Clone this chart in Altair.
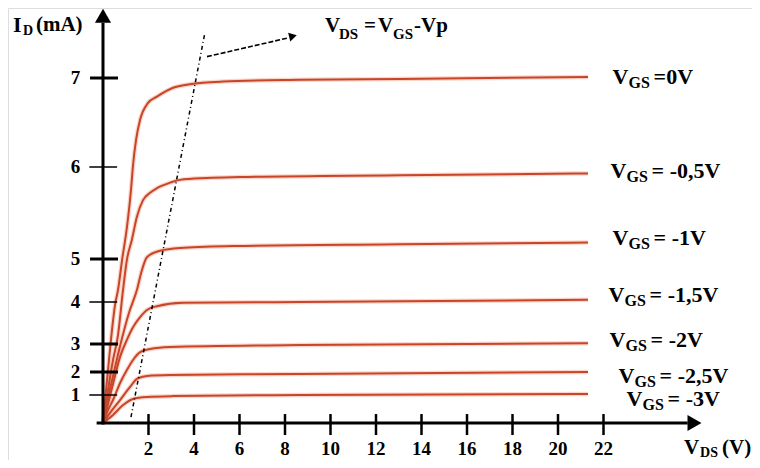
import altair as alt
import pandas as pd

# ---------------- data ----------------
vgs_names = ["0V", "-0,5V", "-1V", "-1,5V", "-2V", "-2,5V", "-3V"]
vgs_rest = ["=0V", "= -0,5V", "= -1V", "= -1,5V", "= -2V", "= -2,5V", "= -3V"]

vds_0 = [0, 0.09, 0.22, 0.35, 0.53, 0.66, 0.84, 1.05, 1.23, 1.32, 1.45, 1.63, 1.98, 2.37, 3.08, 3.82, 5.27, 8.66, 13.05, 21.32]
id_0 = [0, 0.82, 2.07, 3.10, 3.93, 4.28, 4.98, 5.34, 5.75, 6.02, 6.30, 6.53, 6.72, 6.79, 6.89, 6.93, 6.96, 6.98, 6.99, 7.01]

vds_05 = [0, 0.22, 0.44, 0.66, 0.88, 1.05, 1.27, 1.49, 1.76, 2.07, 2.37, 2.95, 3.38, 4.57, 6.02, 13.05, 21.32]
id_05 = [0, 1.22, 2.43, 3.21, 4.28, 4.98, 5.21, 5.46, 5.64, 5.72, 5.77, 5.83, 5.86, 5.88, 5.89, 5.91, 5.93]

vds_1 = [0, 0.18, 0.40, 0.75, 1.14, 1.49, 1.71, 1.93, 2.51, 3.38, 5.71, 13.05, 21.32]
id_1 = [0, 0.75, 1.65, 2.93, 3.74, 4.28, 4.74, 5.02, 5.09, 5.12, 5.14, 5.16, 5.18]

vds_15 = [0, 0.22, 0.44, 0.75, 1.05, 1.32, 1.63, 1.93, 2.37, 3.52, 8.66, 21.32]
id_15 = [0, 0.68, 1.48, 2.54, 3.10, 3.40, 3.64, 3.81, 3.90, 3.98, 4.0, 4.05]

vds_2 = [0, 0.22, 0.44, 0.75, 1.05, 1.32, 1.63, 2.07, 2.95, 8.66, 21.32]
id_2 = [0, 0.46, 0.82, 1.52, 2.07, 2.43, 2.71, 2.82, 2.89, 2.96, 3.02]

vds_25 = [0, 0.31, 0.75, 1.19, 1.49, 1.93, 2.95, 8.66, 21.32]
id_25 = [0, 0.36, 0.82, 1.35, 1.70, 1.83, 1.87, 1.91, 2.0]

vds_3 = [0, 0.44, 0.88, 1.32, 1.93, 3.08, 8.66, 21.32]
id_3 = [0, 0.29, 0.64, 0.86, 0.93, 0.96, 1.0, 1.04]

# pinch-off locus (V_DS = V_GS - Vp) and its pointer arrow
pinch_vds = [1.23, 4.48]
pinch_id = [0.21, 7.51]
arrow_vds = [4.57, 8.13]
arrow_id = [7.24, 7.45]

x_tick_values = [2, 4, 6, 8, 10, 12, 14, 16, 18, 20, 22]
y_tick_values = [1, 2, 3, 4, 5, 6, 7]

# ---------------- scales (hand-drawn, uneven y axis) ----------------
FONT = "Liberation Serif"
XS = alt.Scale(domain=[0, 22], range=[95, 595.5], nice=False, zero=False)
YS = alt.Scale(domain=[0] + y_tick_values,
               range=[415, 387, 364, 336, 294, 251, 159, 70],
               nice=False, zero=False)


def X(f):
    return alt.X(f, type="quantitative", scale=XS, axis=None)


def Y(f):
    return alt.Y(f, type="quantitative", scale=YS, axis=None)


curves = [(vds_0, id_0), (vds_05, id_05), (vds_1, id_1), (vds_15, id_15),
          (vds_2, id_2), (vds_25, id_25), (vds_3, id_3)]
rows = []
for name, (xv, yv) in zip(vgs_names, curves):
    for i, (a, b) in enumerate(zip(xv, yv)):
        rows.append({"vgs": name, "i": i, "vds": a, "id": b})
df = pd.DataFrame(rows)

layers = []

# curves: soft halo + main stroke
halo = alt.Chart(df).mark_line(color="#f08a60", strokeWidth=4.5, opacity=0.35,
                               interpolate="monotone").encode(
    x=X("vds"), y=Y("id"), detail="vgs:N", order="i:Q")
main = alt.Chart(df).mark_line(color="#c8442a", strokeWidth=2,
                               interpolate="monotone").encode(
    x=X("vds"), y=Y("id"), detail="vgs:N", order="i:Q")
layers += [halo, main]

# pinch-off dash-dot line
pinch = alt.Chart(pd.DataFrame({"vds": pinch_vds, "id": pinch_id})).mark_line(
    color="black", strokeWidth=1.5, strokeDash=[4, 3, 1, 3]).encode(x=X("vds"), y=Y("id"))
arrow = alt.Chart(pd.DataFrame({"vds": arrow_vds, "id": arrow_id})).mark_line(
    color="black", strokeWidth=1.6, strokeDash=[5, 2]).encode(x=X("vds"), y=Y("id"))
layers += [pinch, arrow]

one = pd.DataFrame({"k": [0]})


def point(xv, yv, shape, size, angle=0):
    return alt.Chart(one).mark_point(shape=shape, filled=True, color="black", size=size,
                                     angle=angle, opacity=1).encode(
        x=alt.XDatum(xv, scale=XS, axis=None), y=alt.YDatum(yv, scale=YS, axis=None))


layers.append(point(8.35, 7.47, "triangle-up", 80, 76))

# axes
layers.append(alt.Chart(one).mark_rule(color="black", strokeWidth=3).encode(
    x=alt.XDatum(0, scale=XS, axis=None),
    y=alt.YDatum(-0.05, scale=YS, axis=None), y2=alt.Y2Datum(7.62)))
layers.append(alt.Chart(one).mark_rule(color="black", strokeWidth=3).encode(
    x=alt.XDatum(-0.28, scale=XS, axis=None), x2=alt.X2Datum(25.7),
    y=alt.YDatum(0, scale=YS, axis=None)))
layers.append(point(0, 7.70, "triangle-up", 260))
layers.append(point(26.0, 0, "triangle-right", 260))

# x ticks + labels
xt = pd.DataFrame({"v": x_tick_values})
layers.append(alt.Chart(xt).mark_rule(color="black", strokeWidth=2.5).transform_calculate(
    a="0.32", b="-0.43").encode(x=X("v"), y=Y("a:Q"), y2="b:Q"))
layers.append(alt.Chart(xt).mark_text(font=FONT, fontWeight="bold", fontSize=19, dy=26,
                                      baseline="middle", align="center", color="black").encode(
    x=X("v"), y=alt.YDatum(0, scale=YS, axis=None), text=alt.Text("v:Q", format="d")))

# y ticks + labels
yt = pd.DataFrame({"v": y_tick_values})
layers.append(alt.Chart(yt).mark_rule(color="black", strokeWidth=3).transform_filter(
    "indexof([2,3,5,7], datum.v) >= 0").transform_calculate(a="-0.57", b="0.66").encode(
    x=X("a:Q"), x2="b:Q", y=Y("v")))
layers.append(alt.Chart(yt).mark_rule(color="black", strokeWidth=1.5).transform_filter(
    "indexof([2,3,5,7], datum.v) < 0").transform_calculate(a="-0.6", b="0.62").encode(
    x=X("a:Q"), x2="b:Q", y=Y("v")))
layers.append(alt.Chart(yt).mark_text(font=FONT, fontWeight="bold", fontSize=19,
                                      baseline="middle", align="right", color="black").encode(
    x=alt.XDatum(-1.0, scale=XS, axis=None), y=Y("v"), text=alt.Text("v:Q", format="d")))


def piece(xv, yv, text, size, dx=0, dy=0):
    return alt.Chart(one).mark_text(text=text, font=FONT, fontWeight="bold", fontSize=size,
                                    align="left", baseline="middle", dx=dx, dy=dy,
                                    color="black").encode(
        x=alt.XDatum(xv, scale=XS, axis=None), y=alt.YDatum(yv, scale=YS, axis=None))


# curve labels  V_GS = ...
label_dx = [0, -2, 0, -4, -3, 6, 14]
label_dy = [0, -2.5, -4, -4.5, -3.5, 3.5, 4.5]
for k, (xv, yv) in enumerate(curves):
    lx, ly = 22.4, yv[-1]
    ddx, ddy = label_dx[k], label_dy[k]
    layers.append(piece(lx, ly, "V", 22, ddx, ddy))
    layers.append(piece(lx, ly, "GS", 16, ddx + 16, ddy + 6))
    layers.append(piece(lx, ly, vgs_rest[k], 22, ddx + 41, ddy))

# top annotation  V_DS = V_GS - Vp
tx, ty = 9.76, 7.58
layers += [piece(tx, ty, "V", 21, 0, 0), piece(tx, ty, "DS", 15, 14, 8),
           piece(tx, ty, "=", 21, 39, 0), piece(tx, ty, "V", 21, 53, 0),
           piece(tx, ty, "GS", 15, 68, 8), piece(tx, ty, "-Vp", 21, 89, 0)]

# axis titles
ax, ay = -3.96, 7.60
layers += [piece(ax, ay, "I", 22, 0, 0), piece(ax, ay, "D", 14, 10, 6),
           piece(ax, ay, "(mA)", 21, 23, 0)]
bx, by = 25.54, 0
layers += [piece(bx, by, "V", 21, 0, 25), piece(bx, by, "DS", 14, 16, 30),
           piece(bx, by, "(V)", 21, 38, 25)]

chart = alt.layer(*layers).properties(
    width=744, height=452, padding=0, autosize=alt.AutoSizeParams(type="none")
).configure_view(stroke="transparent").configure(background="white")

chart.save("out.html", embed_options={"renderer": "svg", "actions": False})
